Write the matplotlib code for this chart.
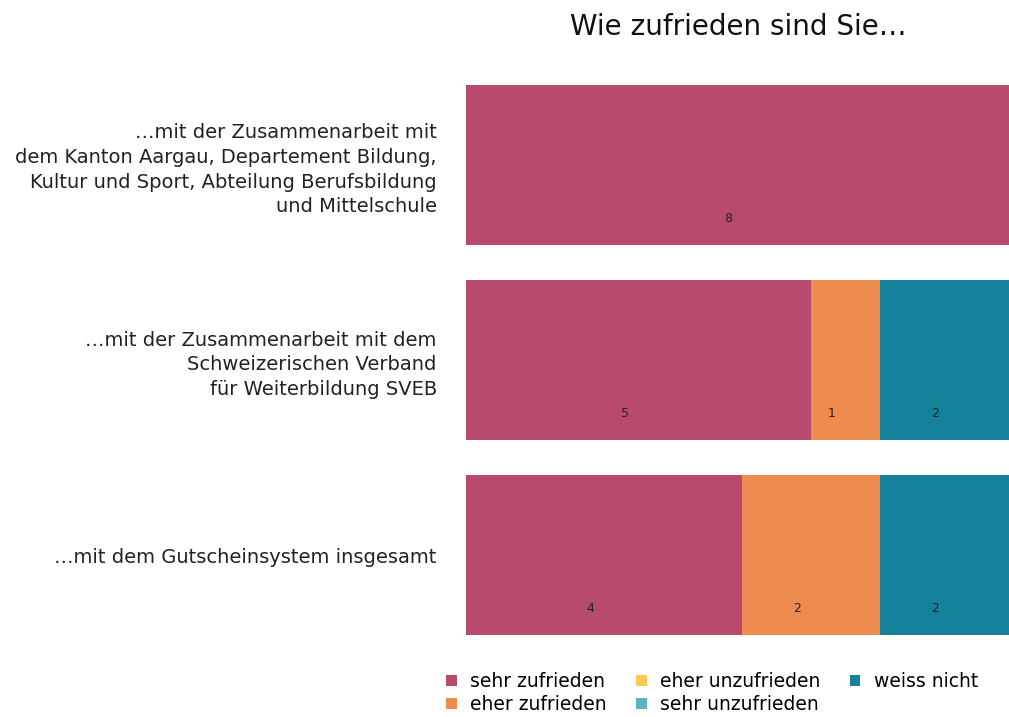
import numpy as np
import matplotlib.pyplot as plt
from matplotlib.patches import Patch

plt.rcParams['font.family'] = ['DejaVu Sans']

# data -------------------------------------------------------------------
questions = [
    "…mit der Zusammenarbeit mit\ndem Kanton Aargau, Departement Bildung,\nKultur und Sport, Abteilung Berufsbildung\nund Mittelschule",
    "…mit der Zusammenarbeit mit dem\nSchweizerischen Verband\nfür Weiterbildung SVEB",
    "…mit dem Gutscheinsystem insgesamt",
]
categories = ["sehr zufrieden", "eher zufrieden", "eher unzufrieden", "sehr unzufrieden", "weiss nicht"]
sehr_zufrieden = [8, 5, 4]
eher_zufrieden = [0, 1, 2]
eher_unzufrieden = [0, 0, 0]
sehr_unzufrieden = [0, 0, 0]
weiss_nicht = [0, 2, 2]
colors = ["#B84B6B", "#EE8C4F", "#FDC94F", "#5DB3C2", "#13829A"]

series = [sehr_zufrieden, eher_zufrieden, eher_unzufrieden, sehr_unzufrieden, weiss_nicht]

fig = plt.figure(figsize=(10.09, 7.17), dpi=100)
# plot area runs a little past the right edge of the figure, like the original
ax = fig.add_axes([466 / 1009, 1 - 635 / 717, 552 / 1009, (635 - 85) / 717])

y = np.arange(len(questions))
bar_h = 0.82
left = np.zeros(len(questions))
for vals, col in zip(series, colors):
    vals = np.array(vals, dtype=float)
    ax.barh(y, vals, left=left, height=bar_h, color=col, edgecolor='none')
    for yi, l, v in zip(y, left, vals):
        if v > 0:
            # value sits near the bottom of its segment
            ax.annotate(f"{int(v)}", (l + v / 2, yi + bar_h / 2), xytext=(-10, 19),
                        textcoords='offset points', ha='center', va='center',
                        fontsize=9, color='#222222')
    left += vals

ax.set_xlim(0, left.max())
ax.set_ylim(len(questions) - 1 + bar_h / 2, -bar_h / 2)
ax.set_yticks(y)
ax.set_yticklabels(questions, fontsize=14, color='#222222', linespacing=1.38)
ax.tick_params(axis='y', length=0, pad=21)
ax.set_xticks([])
for s in ax.spines.values():
    s.set_visible(False)

fig.text(738 / 1009, 1 - 27 / 717, "Wie zufrieden sind Sie…", ha='center', va='center',
         fontsize=20, color='#111111')

handles = [Patch(facecolor=c, edgecolor='none') for c in colors]
fig.legend(handles, categories, ncol=3, loc='center', bbox_to_anchor=(712 / 1009, 1 - 693 / 717),
           frameon=False, fontsize=13.5, handlelength=0.55, handleheight=0.55,
           handletextpad=0.7, columnspacing=1.6, labelspacing=0.22)

fig.savefig("out.png", dpi=100)
